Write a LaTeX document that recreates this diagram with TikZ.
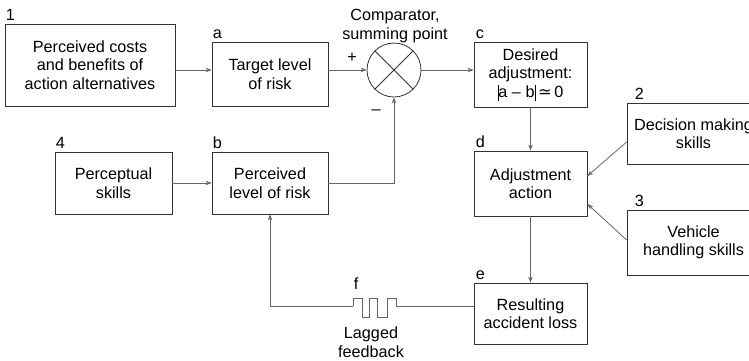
\documentclass[tikz,border=0pt]{standalone}
\usepackage{fontspec}
\setmainfont{Liberation Sans}
\newfontfamily\symfont{DejaVu Sans}
\usetikzlibrary{arrows.meta,calc}
\newcommand{\absbar}{\rule[-3.5pt]{0.8pt}{16pt}}
\begin{document}
\begin{tikzpicture}[x=1pt,y=-1pt,
  font=\fontsize{16.2}{18.5}\selectfont,
  box/.style={draw=black!80,line width=0.8pt,align=center,inner sep=0pt},
  conn/.style={draw=black!60,line width=0.8pt},
  arr/.style={conn,-{Stealth[length=6pt,width=4.5pt]}},
  tag/.style={anchor=south west,inner sep=0pt}]
\useasboundingbox (0,0) rectangle (749,360);

% blocks
\node[box,minimum width=170pt,minimum height=82pt] (n1) at (90,65)
  {Perceived costs\\and benefits of\\action alternatives};
\node[box,minimum width=116pt,minimum height=64pt] (a) at (270,74)
  {Target level\\of risk};
\node[draw=black!80,line width=0.8pt,circle,minimum size=54pt,inner sep=0pt] (cmp) at (394,70) {};
\draw[black!80,line width=0.8pt] (cmp.north east) -- (cmp.south west)
  (cmp.north west) -- (cmp.south east);
\node[box,minimum width=113pt,minimum height=65pt] (c) at (530.5,74.5)
  {Desired\\adjustment:\\\absbar a – b\absbar\,{\symfont ≃}\,0};
\node[box,minimum width=113pt,minimum height=65pt] (d) at (530.5,183.5)
  {Adjustment\\action};
\node[box,minimum width=113pt,minimum height=61pt] (e) at (530.5,313.5)
  {Resulting\\accident loss};
\node[box,minimum width=117pt,minimum height=62pt] (n4) at (113.5,183)
  {Perceptual\\skills};
\node[box,minimum width=116pt,minimum height=62pt] (b) at (270,183)
  {Perceived\\level of risk};
\node[box,minimum width=133pt,minimum height=61pt] (n2) at (693.5,133.5)
  {Decision making\\skills};
\node[box,minimum width=133pt,minimum height=65pt] (n3) at (693.5,242.5)
  {Vehicle\\handling skills};

% block tags
\node[tag] (t1) at ($(n1.north west)+(1,-3)$) {1};
\node[tag] (ta) at ($(a.north west)+(1,-3)$) {a};
\node[tag] (tc) at ($(c.north west)+(2,-3)$) {c};
\node[tag] (td) at ($(d.north west)+(2,-3)$) {d};
\node[tag] (te) at ($(e.north west)+(2,-3)$) {e};
\node[tag] (t4) at ($(n4.north west)+(1,-3)$) {4};
\node[tag] (tb) at ($(b.north west)+(1,-3)$) {b};
\node[tag] (t2) at ($(n2.north west)+(8,-3)$) {2};
\node[tag] (t3) at ($(n3.north west)+(8,-3)$) {3};

% comparator labels
\node[align=center,inner sep=0pt] (cmplbl) at (395,26) {Comparator,\\summing point};
\node[inner sep=0pt] (plus) at (352,58) {+};
\node[inner sep=0pt] (minus) at (376,112) {–};

% forward path
\draw[arr] (n1.east |- cmp) -- (a.west |- cmp);
\draw[arr] (a.east |- cmp) -- (cmp.west);
\draw[arr] (cmp.east) -- (c.west |- cmp);
\draw[arr] (c.south) -- (d.north);
\draw[arr] (d.south) -- (e.north);
\draw[arr] (n4.east) -- (b.west);
\draw[arr] (b.east) -| (cmp.south);
\draw[arr] ($(n2.west)+(0,8.5)$) -- ($(d.east)+(0,-7.5)$);
\draw[arr] ($(n3.west)+(0,-2.5)$) -- ($(d.east)+(0,20.5)$);

% lagged feedback with delay element
\coordinate (lagR) at (396,306);
\coordinate (lagL) at (353,306);
\draw[conn] ($(e.west)+(0,-7.5)$) -- (lagR)
  -- (396,298) -- (387,298) -- (387,317) -- (377,317) -- (377,298)
  -- (369,298) -- (369,317) -- (362,317) -- (362,298) -- (353,298)
  -- (lagL);
\draw[arr] (lagL) -| (b.south);
\node[inner sep=0pt] (f) at (356,284) {f};
\node[align=center,inner sep=0pt] (lagtxt) at (371,342) {Lagged\\feedback};
\end{tikzpicture}
\end{document}
